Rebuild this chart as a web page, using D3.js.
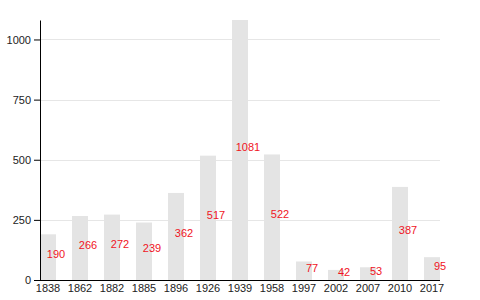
<!DOCTYPE html>
<html>
<head>
<meta charset="utf-8">
<script src="https://cdn.jsdelivr.net/npm/d3@7"></script>
<style>
  body { margin: 0; background: #fff; }
  svg { font-family: "Liberation Sans", Arial, sans-serif; }
</style>
</head>
<body>
<div id="chart"></div>
<script>
const years = ["1838", "1862", "1882", "1885", "1896", "1926", "1939", "1958", "1997", "2002", "2007", "2010", "2017"];
const population = [190, 266, 272, 239, 362, 517, 1081, 522, 77, 42, 53, 387, 95];
const yTicks = [0, 250, 500, 750, 1000];

const width = 480;
const height = 300;
const plot = { left: 40, right: 440, top: 20, bottom: 280 };

const svg = d3.select("#chart").append("svg")
  .attr("width", width)
  .attr("height", height);

const x = d3.scaleBand()
  .domain(years)
  .range([plot.left, plot.right])
  .paddingInner(0.5)
  .paddingOuter(0);

const y = d3.scaleLinear()
  .domain([0, d3.max(population)])
  .range([plot.bottom, plot.top]);

// grid lines
svg.selectAll("line.grid")
  .data(yTicks.slice(1))
  .enter()
  .append("line")
  .attr("class", "grid")
  .attr("x1", plot.left)
  .attr("x2", plot.right)
  .attr("y1", (d) => Math.round(y(d)) + 0.5)
  .attr("y2", (d) => Math.round(y(d)) + 0.5)
  .attr("stroke", "#e6e6e6")
  .attr("stroke-width", 1);

svg.selectAll("rect.bar")
  .data(population)
  .enter()
  .append("rect")
  .attr("class", "bar")
  .attr("x", (d, i) => x(years[i]))
  .attr("y", (d) => y(d))
  .attr("width", x.bandwidth())
  .attr("height", (d) => plot.bottom - y(d))
  .attr("fill", "#e4e4e4");

svg.selectAll("text.val")
  .data(population)
  .enter()
  .append("text")
  .attr("class", "val")
  .attr("x", (d, i) => x(years[i]) + x.bandwidth())
  .attr("y", (d) => y(d / 2) + 1)
  .attr("text-anchor", "middle")
  .attr("font-size", 11)
  .attr("fill", "#f0141e")
  .text((d) => d);

const yAxis = svg.append("g")
  .attr("transform", `translate(${plot.left},0)`)
  .call(d3.axisLeft(y).tickValues(yTicks).tickFormat(d3.format("d")).tickSize(6).tickSizeOuter(0));
yAxis.select(".domain").attr("stroke", "#000");
yAxis.selectAll("text").attr("font-size", 11).attr("fill", "#222").attr("font-family", null);

const xAxis = svg.append("g")
  .attr("transform", `translate(0,${plot.bottom})`)
  .call(d3.axisBottom(x).tickSize(0).tickSizeOuter(0).tickPadding(4));
xAxis.select(".domain").attr("stroke", "#000").attr("d", `M${plot.left},0.5H${plot.right}`);
xAxis.selectAll("text").attr("font-size", 11).attr("fill", "#222").attr("font-family", null);
</script>
</body>
</html>
